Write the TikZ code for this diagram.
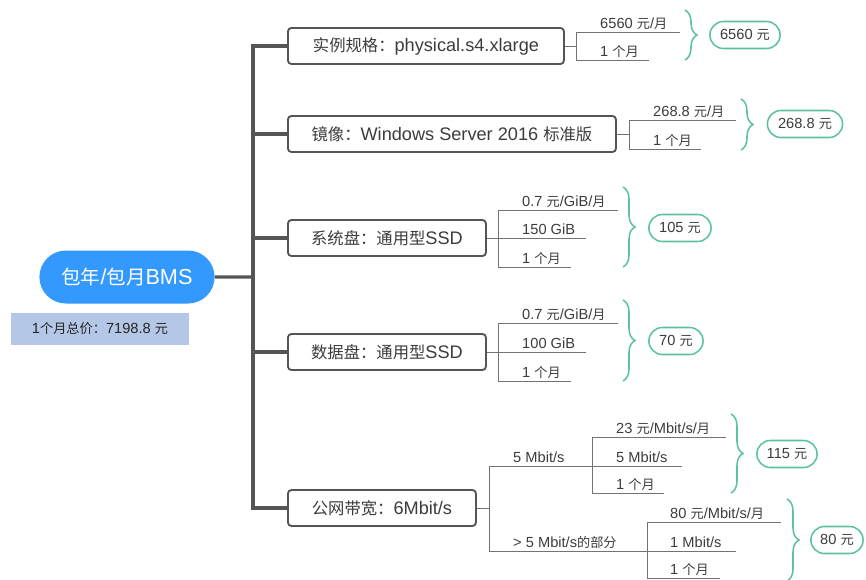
\documentclass[tikz,border=0pt]{standalone}
\usepackage{fontspec}
\setmainfont{Liberation Sans}
\newfontfamily\cjk[Scale=0.9]{Noto Sans CJK SC}
\newcommand\zh[1]{{\cjk #1}}
\usetikzlibrary{shapes.misc,decorations.pathreplacing}
\definecolor{rootblue}{RGB}{51,153,255}
\definecolor{sumblue}{RGB}{180,199,231}
\definecolor{linegray}{RGB}{85,85,85}
\definecolor{leafgray}{RGB}{115,115,115}
\definecolor{txtgray}{RGB}{60,60,60}
\definecolor{costgreen}{RGB}{92,194,154}
\tikzset{
  rootnode/.style={rounded rectangle,fill=rootblue,text=white,minimum width=5.49cm,minimum height=1.59cm,font=\fontsize{18.5}{22}\selectfont},
  totalbox/.style={fill=sumblue,minimum width=5.34cm,minimum height=.96cm,text=black!85,font=\fontsize{12.5}{15}\selectfont},
  itembox/.style={draw=linegray,line width=1.6pt,rounded corners=3pt,fill=white,anchor=west,minimum height=1.08cm,text=txtgray,font=\fontsize{15.5}{18}\selectfont},
  leaf/.style={anchor=base west,inner sep=0pt,text=txtgray,font=\fontsize{12.5}{15}\selectfont},
  cost/.style={rounded rectangle,draw=costgreen,line width=1.3pt,minimum height=.81cm,text=txtgray,font=\fontsize{12.5}{15}\selectfont},
  trunk/.style={linegray,line width=2.6pt},
  twig/.style={leafgray,line width=.8pt},
  costbrace/.style={costgreen,line width=1.3pt,decorate,decoration={brace,amplitude=.36cm}}
}
\begin{document}
\begin{tikzpicture}[x=.03cm,y=-.03cm]
\useasboundingbox (0,0) rectangle (866,579);
\node[rootnode] (root) at (127,277) {\zh{包年}/\zh{包月}BMS};
\node[totalbox] (total) at (100,329) {1\zh{个月总价：}7198.8 \zh{元}};
% items
\node[itembox,minimum width=8.28cm] (spec) at (287,46) {\zh{实例规格：}physical.s4.xlarge};
\node[itembox,minimum width=9.84cm] (image) at (287,134) {\zh{镜像：}Windows Server 2016 \zh{标准版}};
\node[itembox,minimum width=5.94cm] (sysdisk) at (287,238) {\zh{系统盘：通用型}SSD};
\node[itembox,minimum width=5.94cm] (datadisk) at (287,352) {\zh{数据盘：通用型}SSD};
\node[itembox,minimum width=5.64cm] (bw) at (287,508) {\zh{公网带宽：}6Mbit/s};
\coordinate (hub) at (253,277);
\draw[trunk] (root) -- (hub);
\foreach \n in {spec,image,sysdisk,datadisk,bw} \draw[trunk] (hub) |- (\n.west);
% junctions
\coordinate (specj) at (576,46);
\coordinate (imagej) at (629,134);
\coordinate (sysj) at (498,238);
\coordinate (dataj) at (498,352);
\coordinate (bwj) at (489,508);
\draw[twig] (spec.east) -- (specj);
\draw[twig] (image.east) -- (imagej);
\draw[twig] (sysdisk.east) -- (sysj);
\draw[twig] (datadisk.east) -- (dataj);
\draw[twig] (bw.east) -- (bwj);
% leaves
\foreach \yy/\xe/\txt [count=\i] in {32/680/{6560 \zh{元}/\zh{月}},60/649/{1 \zh{个月}}}{
  \coordinate (spece\i) at (\xe,\yy);
  \node[leaf] (spec\i) at (600,\yy-4) {\txt};
  \draw[twig] (specj) |- (spece\i);
}
\foreach \yy/\xe/\txt [count=\i] in {120/736/{268.8 \zh{元}/\zh{月}},149/701/{1 \zh{个月}}}{
  \coordinate (imagee\i) at (\xe,\yy);
  \node[leaf] (image\i) at (653,\yy-4) {\txt};
  \draw[twig] (imagej) |- (imagee\i);
}
\foreach \yy/\xe/\txt [count=\i] in {210/618/{0.7 \zh{元}/GiB/\zh{月}},238/586/{150 GiB},267/571/{1 \zh{个月}}}{
  \coordinate (syse\i) at (\xe,\yy);
  \node[leaf] (sys\i) at (522,\yy-4) {\txt};
  \draw[twig] (sysj) |- (syse\i);
}
\foreach \yy/\xe/\txt [count=\i] in {323/618/{0.7 \zh{元}/GiB/\zh{月}},352/586/{100 GiB},381/571/{1 \zh{个月}}}{
  \coordinate (datae\i) at (\xe,\yy);
  \node[leaf] (data\i) at (522,\yy-4) {\txt};
  \draw[twig] (dataj) |- (datae\i);
}
\coordinate (bwA) at (592,466);
\coordinate (bwB) at (647,551);
\node[leaf] (bwa) at (513,462) {5 Mbit/s};
\node[leaf] (bwb) at (513,547) {> 5 Mbit/s\zh{的部分}};
\draw[twig] (bwj) |- (bwA);
\draw[twig] (bwj) |- (bwB);
\foreach \yy/\xe/\txt [count=\i] in {437/726/{23 \zh{元}/Mbit/s/\zh{月}},466/682/{5 Mbit/s},493/664/{1 \zh{个月}}}{
  \coordinate (bwAe\i) at (\xe,\yy);
  \node[leaf] (bwA\i) at (616,\yy-4) {\txt};
  \draw[twig] (bwA) |- (bwAe\i);
}
\foreach \yy/\xe/\txt [count=\i] in {522/781/{80 \zh{元}/Mbit/s/\zh{月}},551/736/{1 Mbit/s},578/720/{1 \zh{个月}}}{
  \coordinate (bwBe\i) at (\xe,\yy);
  \node[leaf] (bwB\i) at (670,\yy-4) {\txt};
  \draw[twig] (bwB) |- (bwBe\i);
}
% braces and costs
\draw[costbrace] (685,10) -- (685,60);
\draw[costbrace] (741,99) -- (741,150);
\draw[costbrace] (623,187) -- (623,267);
\draw[costbrace] (623,300) -- (623,381);
\draw[costbrace] (731,414) -- (731,493);
\draw[costbrace] (787,499) -- (787,581);
\node[cost,minimum width=2.34cm] (specc) at (745,35) {6560 \zh{元}};
\node[cost,minimum width=2.49cm] (imagec) at (805,124) {268.8 \zh{元}};
\node[cost,minimum width=2.1cm] (sysc) at (680,228) {105 \zh{元}};
\node[cost,minimum width=1.86cm] (datac) at (676,341) {70 \zh{元}};
\node[cost,minimum width=2.04cm] (bwAc) at (787,454) {115 \zh{元}};
\node[cost,minimum width=1.8cm] (bwBc) at (837,540) {80 \zh{元}};
\end{tikzpicture}
\end{document}
